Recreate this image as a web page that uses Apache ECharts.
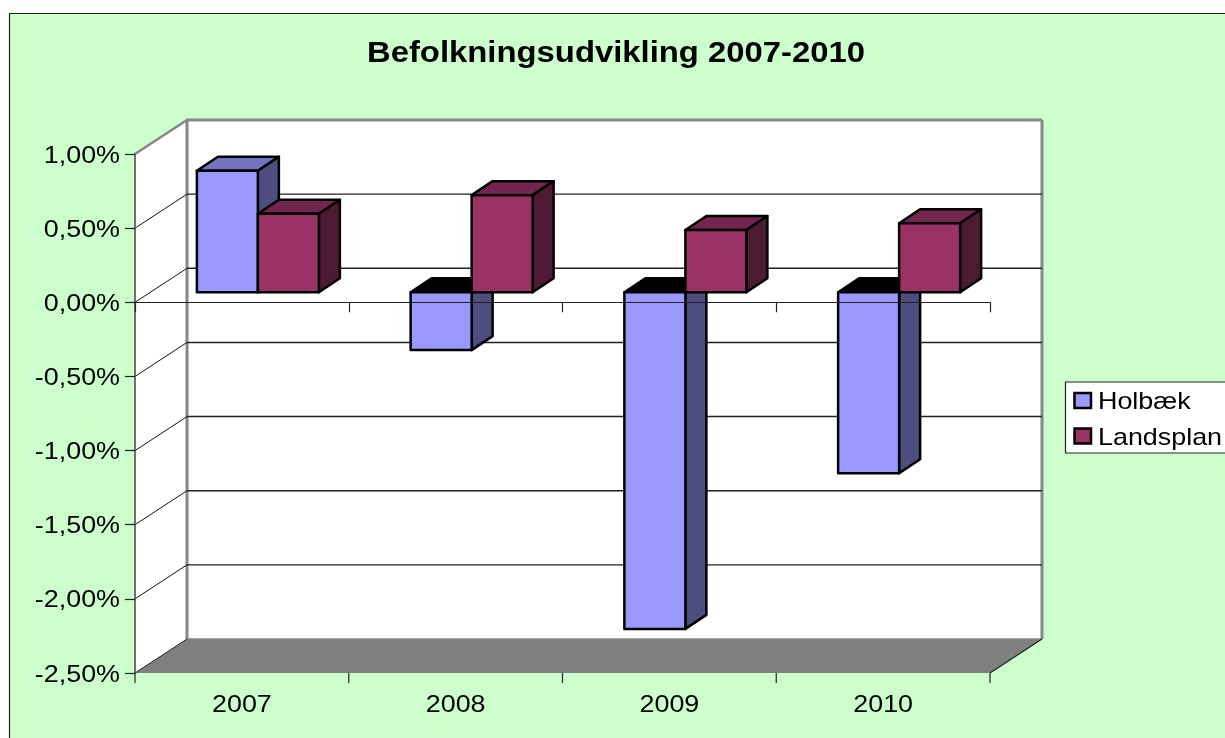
<!DOCTYPE html>
<html>
<head>
<meta charset="utf-8">
<title>Befolkningsudvikling 2007-2010</title>
<script src="https://cdn.jsdelivr.net/npm/echarts@6/dist/echarts.min.js"></script>
<style>
  html, body { margin: 0; padding: 0; background: #fff; }
  #chart { width: 1225px; height: 738px; }
</style>
</head>
<body>
<div id="chart"></div>
<script>
const categories = ['2007', '2008', '2009', '2010'];
const holbaek = [0.82, -0.39, -2.27, -1.22];
const landsplan = [0.53, 0.655, 0.42, 0.465];
const yTicks = [1, 0.5, 0, -0.5, -1, -1.5, -2, -2.5];
const yTickLabels = ['1,00%', '0,50%', '0,00%', '-0,50%', '-1,00%', '-1,50%', '-2,00%', '-2,50%'];
const titleText = 'Befolkningsudvikling 2007-2010';

// the reference is stretched sideways, so all text is widened a bit
const FONT = '"Liberation Sans", Arial, sans-serif';
const TEXT_SCALE = 1.12;
// wall depth, bar position inside the depth, bar depth
const WALL_DX = 52, WALL_DY = -34;
const BAR_DX = 16, BAR_DY = -10;
const DEPTH_DX = 21, DEPTH_DY = -14;
const BAR_WIDTH = 61;

const chart = echarts.init(document.getElementById('chart'));

function poly(points, fill, stroke, lineWidth) {
  return {
    type: 'polygon',
    shape: { points },
    style: { fill, stroke, lineWidth, lineJoin: 'round' },
  };
}

function line(x1, y1, x2, y2, stroke, lineWidth) {
  return { type: 'line', shape: { x1, y1, x2, y2 }, style: { stroke, lineWidth } };
}

function label(text, x, y, align) {
  return {
    type: 'text',
    x,
    y,
    scaleX: TEXT_SCALE,
    style: {
      text,
      fill: '#000',
      font: '24px ' + FONT,
      textAlign: align,
      textVerticalAlign: 'middle',
    },
  };
}

// floor and the two walls
function renderWalls(params, api) {
  const c = params.coordSys;
  const l = c.x, r = c.x + c.width, t = c.y, b = c.y + c.height;
  const bl = l + WALL_DX, br = r + WALL_DX, bt = t + WALL_DY, bb = b + WALL_DY;
  return {
    type: 'group',
    children: [
      poly([[bl, bt], [br, bt], [br, bb], [bl, bb]], '#fff', null, 0),
      poly([[l, t], [bl, bt], [bl, bb], [l, b]], '#fff', null, 0),
      poly([[l, b], [bl, bb], [br, bb], [r, b]], '#808080', null, 0),
      line(l, t, bl, bt, '#868686', 2.5),
      line(bl - 1, bt, br, bt, '#868686', 3),
      line(br, bt, br, bb, '#868686', 3),
      line(bl, bt, bl, bb, '#868686', 3),
      line(bl, bb, br, bb, '#868686', 1.5),
      line(br, bb, r, b, '#222', 1.2),
      line(l, b, bl, bb, '#222', 1),
    ],
  };
}

// gridlines on the walls plus the y labels
function renderGrid(params, api) {
  const c = params.coordSys;
  const v = api.value(0);
  const p = api.coord([0, v]);
  const y = p[1];
  const l = c.x, r = c.x + c.width;
  const children = [];
  if (v !== yTicks[0] && v !== yTicks[yTicks.length - 1]) {
    children.push(line(l, y, l + WALL_DX, y + WALL_DY, '#111', 1));
    children.push(line(l + WALL_DX, y + WALL_DY, r + WALL_DX, y + WALL_DY, '#222', 1.4));
  }
  children.push(label(yTickLabels[params.dataIndex], 120, y + 2, 'right'));
  return { type: 'group', children };
}

function renderCategory(params, api) {
  const c = params.coordSys;
  const p = api.coord([api.value(0), -2.5]);
  const band = api.size([1, 0])[0];
  const children = [label(categories[params.dataIndex], p[0], p[1] + 32, 'center')];
  // ticks under the floor edge
  children.push(line(p[0] - band / 2, p[1], p[0] - band / 2, p[1] + 10, '#222', 1.2));
  if (params.dataIndex === categories.length - 1) {
    children.push(line(c.x + c.width, p[1], c.x + c.width, p[1] + 10, '#222', 1.2));
  }
  return { type: 'group', children };
}

function barRenderer(offset, colors) {
  return function (params, api) {
    const i = api.value(0);
    const v = api.value(1);
    const zero = api.coord([i, 0]);
    const end = api.coord([i, v]);
    const x0 = zero[0] + BAR_DX + offset * BAR_WIDTH;
    const x1 = x0 + BAR_WIDTH;
    const yTop = Math.min(zero[1], end[1]) + BAR_DY;
    const yBot = Math.max(zero[1], end[1]) + BAR_DY;
    const topFill = v < 0 ? '#000' : colors.top;
    return {
      type: 'group',
      children: [
        poly([[x0, yTop], [x0 + DEPTH_DX, yTop + DEPTH_DY], [x1 + DEPTH_DX, yTop + DEPTH_DY], [x1, yTop]], topFill, '#000', 2.5),
        poly([[x1, yTop], [x1 + DEPTH_DX, yTop + DEPTH_DY], [x1 + DEPTH_DX, yBot + DEPTH_DY], [x1, yBot]], colors.side, '#000', 2.5),
        poly([[x0, yTop], [x1, yTop], [x1, yBot], [x0, yBot]], colors.front, '#000', 2.5),
      ],
    };
  };
}

const option = {
  animation: false,
  grid: { left: 135, top: 154, width: 855, height: 519 },
  xAxis: {
    type: 'category',
    data: categories,
    z: 5,
    axisLine: { onZero: true, lineStyle: { color: '#222', width: 1.2 } },
    axisTick: { show: true, length: 10, alignWithLabel: false, lineStyle: { color: '#222', width: 1.2 } },
    axisLabel: { show: false },
    splitLine: { show: false },
  },
  yAxis: {
    type: 'value',
    min: -2.5,
    max: 1,
    interval: 0.5,
    z: 5,
    axisLine: { show: true, lineStyle: { color: '#444', width: 1.5 } },
    axisTick: { show: true, length: 10, lineStyle: { color: '#222', width: 1.2 } },
    axisLabel: { show: false },
    splitLine: { show: false },
  },
  graphic: [
    {
      type: 'rect',
      z: -10,
      shape: { x: 9.5, y: 13.5, width: 1300, height: 800 },
      style: { fill: '#CCFFCC', stroke: '#222', lineWidth: 1.2 },
    },
    {
      type: 'text',
      x: 616,
      y: 54,
      scaleX: 1.132,
      style: {
        text: titleText,
        fill: '#000',
        font: 'bold 29px ' + FONT,
        textAlign: 'center',
        textVerticalAlign: 'middle',
      },
    },
    {
      type: 'rect',
      shape: { x: 1065.5, y: 382, width: 200, height: 71 },
      style: { fill: '#fff', stroke: '#222', lineWidth: 1.2 },
    },
    {
      type: 'rect',
      shape: { x: 1074.5, y: 393, width: 16.5, height: 15 },
      style: { fill: '#9999FF', stroke: '#000', lineWidth: 2.5 },
    },
    {
      type: 'rect',
      shape: { x: 1074.5, y: 428.5, width: 16.5, height: 15 },
      style: { fill: '#993366', stroke: '#000', lineWidth: 2.5 },
    },
    {
      type: 'text',
      x: 1098,
      y: 402,
      scaleX: TEXT_SCALE,
      style: { text: 'Holbæk', fill: '#000', font: '24px ' + FONT, textAlign: 'left', textVerticalAlign: 'middle' },
    },
    {
      type: 'text',
      x: 1098,
      y: 438,
      scaleX: TEXT_SCALE,
      style: { text: 'Landsplan', fill: '#000', font: '24px ' + FONT, textAlign: 'left', textVerticalAlign: 'middle' },
    },
  ],
  series: [
    { type: 'custom', name: 'walls', z: 1, renderItem: renderWalls, data: [0], silent: true },
    { type: 'custom', name: 'grid', z: 1, renderItem: renderGrid, data: yTicks.map(v => [v]), encode: { x: -1, y: 0 }, silent: true },
    { type: 'custom', name: 'categories', z: 1, renderItem: renderCategory, data: categories.map((_, i) => [i]), encode: { x: 0, y: -1 }, silent: true },
    {
      type: 'custom',
      name: 'Holbæk',
      z: 3,
      renderItem: barRenderer(-1, { front: '#9999FF', top: '#7373BF', side: '#4D4D80' }),
      data: holbaek.map((v, i) => [i, v]),
      encode: { x: 0, y: 1 },
    },
    {
      type: 'custom',
      name: 'Landsplan',
      z: 4,
      renderItem: barRenderer(0, { front: '#993366', top: '#73264D', side: '#4D1A33' }),
      data: landsplan.map((v, i) => [i, v]),
      encode: { x: 0, y: 1 },
    },
  ],
};

chart.setOption(option);
</script>
</body>
</html>
